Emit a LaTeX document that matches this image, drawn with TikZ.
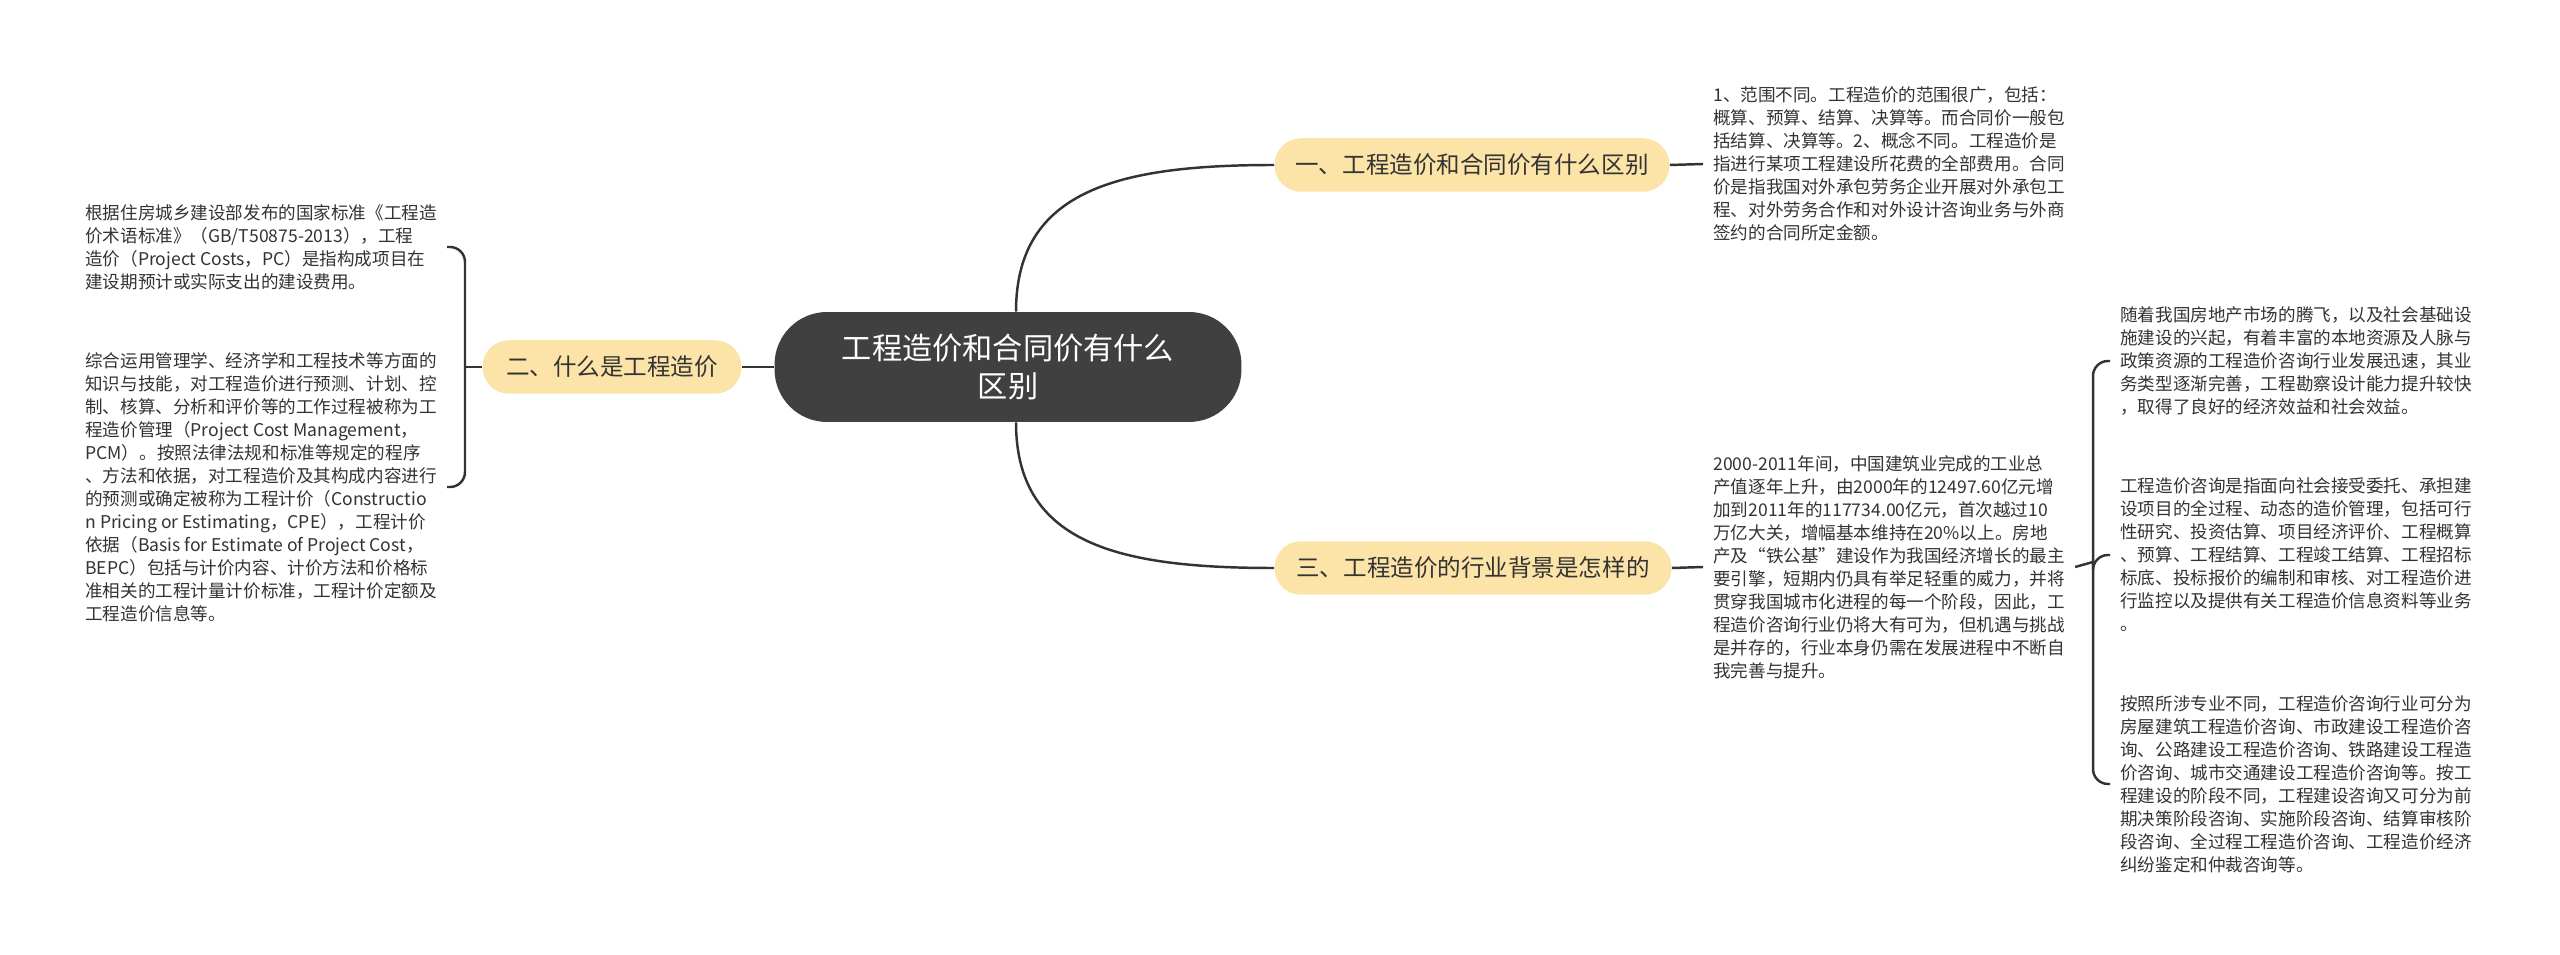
\documentclass[tikz,border=0pt]{standalone}
\usepackage{fontspec}
\setmainfont{Noto Sans CJK SC}
\usetikzlibrary{calc}
\definecolor{rootgray}{RGB}{64,64,64}
\definecolor{branchfill}{RGB}{252,228,168}
\definecolor{inkgray}{RGB}{51,51,51}

\begin{document}
\begin{tikzpicture}[x=0.02cm, y=-0.02cm,
  root/.style={fill=rootgray, text=white, rounded corners=1.05cm, minimum width=9.34cm, minimum height=2.2cm, align=center, font=\fontsize{17.2}{21.6}\selectfont},
  branch/.style={fill=branchfill, text=inkgray, rounded corners=0.53cm, minimum height=1.07cm, font=\fontsize{13.4}{16}\selectfont},
  leaf/.style={text=inkgray, align=left, anchor=west, inner xsep=0.2cm, inner ysep=0pt, font=\fontsize{10}{13.1}\selectfont},
  link/.style={draw=inkgray, line width=1.4pt},
  brace/.style={link, rounded corners=0.3cm}]
  \useasboundingbox (0,0) rectangle (2560,955);
  \fill[white] (0,0) rectangle (2560,955);

  % centre and main branches
  \node[root] (centre) at (1008,367) {工程造价和合同价有什么\\区别};
  \node[branch, minimum width=7.9cm] (diff) at (1472,165) {一、工程造价和合同价有什么区别};
  \node[branch, minimum width=5.18cm] (what) at (612,367) {二、什么是工程造价};
  \node[branch, minimum width=7.94cm] (bg) at (1473,568) {三、工程造价的行业背景是怎样的};

  % leaves
  \node[leaf] (diffnote) at (1703,164) {1、范围不同。工程造价的范围很广，包括：\\概算、预算、结算、决算等。而合同价一般包\\括结算、决算等。2、概念不同。工程造价是\\指进行某项工程建设所花费的全部费用。合同\\价是指我国对外承包劳务企业开展对外承包工\\程、对外劳务合作和对外设计咨询业务与外商\\签约的合同所定金额。};
  \node[leaf] (defnote) at (75,247) {根据住房城乡建设部发布的国家标准《工程造\\价术语标准》（GB/T50875-2013），工程\\造价（Project Costs，PC）是指构成项目在\\建设期预计或实际支出的建设费用。};
  \node[leaf] (pcmnote) at (75,487) {综合运用管理学、经济学和工程技术等方面的\\知识与技能，对工程造价进行预测、计划、控\\制、核算、分析和评价等的工作过程被称为工\\程造价管理（Project Cost Management，\\PCM）。按照法律法规和标准等规定的程序\\、方法和依据，对工程造价及其构成内容进行\\的预测或确定被称为工程计价（Constructio\\n Pricing or Estimating，CPE），工程计价\\依据（Basis for Estimate of Project Cost，\\BEPC）包括与计价内容、计价方法和价格标\\准相关的工程计量计价标准，工程计价定额及\\工程造价信息等。};
  \node[leaf] (bgnote) at (1703,567) {2000-2011年间，中国建筑业完成的工业总\\产值逐年上升，由2000年的12497.60亿元增\\加到2011年的117734.00亿元，首次越过10\\万亿大关，增幅基本维持在20\%以上。房地\\产及“铁公基”建设作为我国经济增长的最主\\要引擎，短期内仍具有举足轻重的威力，并将\\贯穿我国城市化进程的每一个阶段，因此，工\\程造价咨询行业仍将大有可为，但机遇与挑战\\是并存的，行业本身仍需在发展进程中不断自\\我完善与提升。};
  \node[leaf] (riseA) at (2110,361) {随着我国房地产市场的腾飞，以及社会基础设\\施建设的兴起，有着丰富的本地资源及人脉与\\政策资源的工程造价咨询行业发展迅速，其业\\务类型逐渐完善，工程勘察设计能力提升较快\\，取得了良好的经济效益和社会效益。};
  \node[leaf] (scopeB) at (2110,555) {工程造价咨询是指面向社会接受委托、承担建\\设项目的全过程、动态的造价管理，包括可行\\性研究、投资估算、项目经济评价、工程概算\\、预算、工程结算、工程竣工结算、工程招标\\标底、投标报价的编制和审核、对工程造价进\\行监控以及提供有关工程造价信息资料等业务\\。};
  \node[leaf] (kindsC) at (2110,784) {按照所涉专业不同，工程造价咨询行业可分为\\房屋建筑工程造价咨询、市政建设工程造价咨\\询、公路建设工程造价咨询、铁路建设工程造\\价咨询、城市交通建设工程造价咨询等。按工\\程建设的阶段不同，工程建设咨询又可分为前\\期决策阶段咨询、实施阶段咨询、结算审核阶\\段咨询、全过程工程造价咨询、工程造价经济\\纠纷鉴定和仲裁咨询等。};

  % bracket joints
  \coordinate (jleft) at (465,367);
  \coordinate (jright) at (2093,562);

  % connectors
  \draw[link] ($(centre.north)+(8,0)$) .. controls +(0,-122) and +(-155,0) .. (diff.west);
  \draw[link] ($(centre.south)+(8,0)$) .. controls +(0,122) and +(-155,0) .. (bg.west);
  \draw[link] (centre.west) -- (what.east);
  \draw[link] (diff.east) -- (diffnote.west);
  \draw[link] (bg.east) -- (bgnote.west);
  \draw[link] (what.west) -- (jleft);
  \draw[brace] (defnote.east) -| (jleft) |- (pcmnote.east);
  \draw[link] (bgnote.east) -- (jright);
  \draw[brace] (riseA.west) -| (jright) |- (kindsC.west);
  \draw[brace] (jright) |- (scopeB.west);
\end{tikzpicture}
\end{document}
